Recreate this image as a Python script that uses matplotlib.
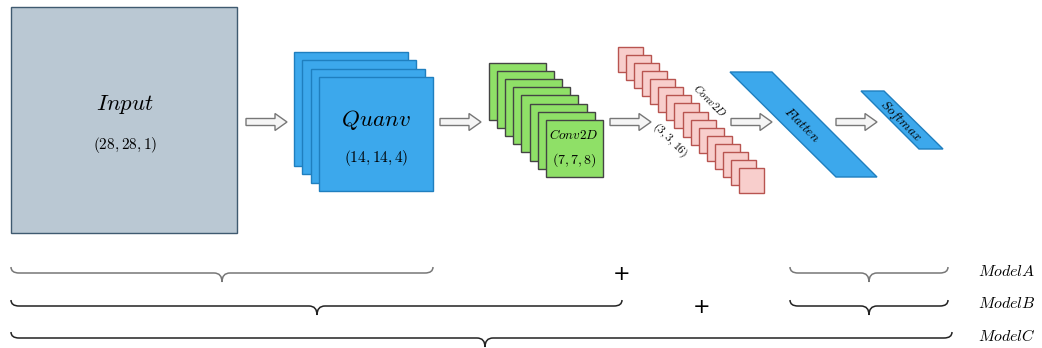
import matplotlib
matplotlib.use("Agg")
import matplotlib.pyplot as plt
import matplotlib.patches as patches
from matplotlib.path import Path

plt.rcParams['mathtext.fontset'] = 'cm'

# layer stacks: (x0, y0, size, count, step, face, edge)
stack_names = ['Input', 'Quanv', 'Conv2D', 'Conv2D_small']
stack_x = [11, 294, 489, 618]
stack_y = [7, 52, 63, 47]
stack_size = [226, 114, 57, 25]
stack_count = [1, 4, 8, 16]
stack_step = [0, 8.3, 8.1, 8.07]
stack_face = ['#bac8d3', '#3ca8ec', '#8fe067', '#f8cecc']
stack_edge = ['#3f5a70', '#1f7fbf', '#444444', '#b85450']

# parallelograms: top-left x, top-right x, top y, bottom-left x, bottom-right x, bottom y
para_names = ['Flatten', 'Softmax']
para_top = [(730, 772, 72), (861, 884, 91)]
para_bot = [(836, 877, 177), (919, 943, 149)]

arrow_x = [246, 440, 610, 731, 836]
arrow_y = 122

# braces: rows -> list of (x0, x1, tip)
brace_rows = [
    [(11, 433, 222), (790, 948, 869)],
    [(11, 622, 317), (790, 948, 869)],
    [(11, 952, 485)],
]
brace_y = [273, 306, 338]
brace_color = ['#777777', '#222222', '#222222']
plus_x = [622, 702]
model_labels = ['ModelA', 'ModelB', 'ModelC']

fig = plt.figure(figsize=(10.42, 3.48), dpi=100)
ax = fig.add_axes([0, 0, 1, 1])
ax.set_xlim(0, 1042)
ax.set_ylim(348, 0)
ax.axis('off')

for i in range(len(stack_names)):
    for k in range(stack_count[i]):
        x = stack_x[i] + k * stack_step[i]
        y = stack_y[i] + k * stack_step[i]
        ax.add_patch(patches.Rectangle((x, y), stack_size[i], stack_size[i],
                                       fc=stack_face[i], ec=stack_edge[i], lw=1.0))

for (tl, tr, ty), (bl, br, by) in zip(para_top, para_bot):
    ax.add_patch(patches.Polygon([(tl, ty), (tr, ty), (br, by), (bl, by)],
                                 closed=True, fc='#3ca8ec', ec='#1f7fbf', lw=1.0))

for x in arrow_x:
    ax.add_patch(patches.FancyArrow(x, arrow_y, 41, 0, width=7, head_width=17,
                                    head_length=12, length_includes_head=True,
                                    fc='#f5f5f5', ec='#777777', lw=1.0))

# labels
ax.text(125, 105, r'$Input$', fontsize=16.5, ha='center', va='center')
ax.text(125, 145, r'$(28,28,1)$', fontsize=11, ha='center', va='center')
ax.text(376, 120, r'$Quanv$', fontsize=16.5, ha='center', va='center')
ax.text(376, 158, r'$(14,14,4)$', fontsize=11, ha='center', va='center')
ax.text(574, 135, r'$Conv2D$', fontsize=9.5, ha='center', va='center')
ax.text(574, 160, r'$(7,7,8)$', fontsize=10, ha='center', va='center')
ax.text(710, 100, r'$Conv2D$', fontsize=8, ha='center', va='center', rotation=-45)
ax.text(670, 140, r'$(3,3,16)$', fontsize=8.5, ha='center', va='center', rotation=-45)
ax.text(802, 125, r'$Flatten$', fontsize=9.5, ha='center', va='center', rotation=-45)
ax.text(900, 121, r'$Softmax$', fontsize=9.5, ha='center', va='center', rotation=-45)


def draw_brace(x0, x1, tip, y, color, h=6, d=9, r=8):
    verts = [(x0, y - h), (x0, y), (x0 + r, y),
             (tip - r, y),
             (tip, y), (tip, y + d),
             (tip, y), (tip + r, y),
             (x1 - r, y),
             (x1, y), (x1, y - h)]
    codes = [Path.MOVETO, Path.CURVE3, Path.CURVE3,
             Path.LINETO,
             Path.CURVE3, Path.CURVE3,
             Path.CURVE3, Path.CURVE3,
             Path.LINETO,
             Path.CURVE3, Path.CURVE3]
    ax.add_patch(patches.PathPatch(Path(verts, codes), fc='none', ec=color, lw=1.1))


for row, y, c in zip(brace_rows, brace_y, brace_color):
    for x0, x1, tip in row:
        draw_brace(x0, x1, tip, y, c)

for i, x in enumerate(plus_x):
    ax.text(x, brace_y[i] + 1, '+', fontsize=15, ha='center', va='center')

for lab, y in zip(model_labels, brace_y):
    ax.text(978, y - 2, '$' + lab + '$', fontsize=11.5, ha='left', va='center')

fig.savefig('out.png', dpi=100)
